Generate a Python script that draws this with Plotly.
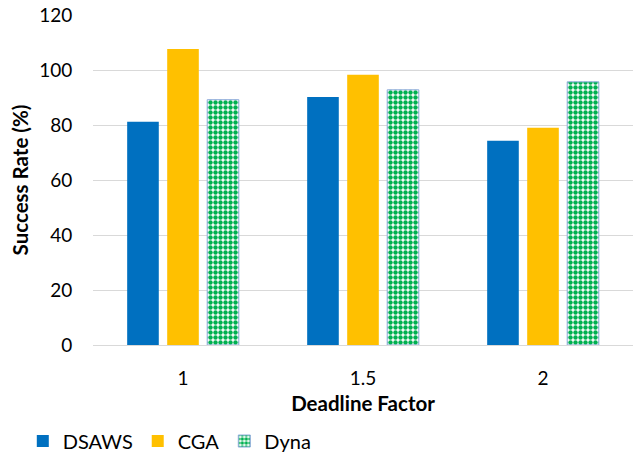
import plotly.graph_objects as go

# Deadline factors (categories) and success rates per algorithm
factors = ["1", "1.5", "2"]
dsaws = [81.2, 90.2, 74.3]
cga = [107.6, 98.3, 79.0]
dyna = [89.2, 92.8, 95.7]

y_ticks = [0, 20, 40, 60, 80, 100, 120]

font_family = "Lato, 'Open Sans', sans-serif"

fig = go.Figure()
fig.add_trace(go.Bar(name="DSAWS", x=factors, y=dsaws,
                     marker=dict(color="#0070C0", line=dict(width=0))))
fig.add_trace(go.Bar(name="CGA", x=factors, y=cga,
                     marker=dict(color="#FFC000", line=dict(width=0))))
fig.add_trace(go.Bar(name="Dyna", x=factors, y=dyna,
                     marker=dict(color="white",
                                 line=dict(color="#8FAADC", width=1),
                                 pattern=dict(shape=".", fgcolor="#00B050",
                                              bgcolor="white", size=5,
                                              solidity=0.62, fillmode="replace"))))

fig.update_layout(
    width=633, height=457,
    margin=dict(l=93, r=0, t=15, b=112, autoexpand=False),
    paper_bgcolor="white", plot_bgcolor="white",
    barmode="group", bargap=0.333, bargroupgap=0.21,
    font=dict(family=font_family, size=19, color="#000000"),
    showlegend=True,
    legend=dict(orientation="h", x=-0.13, xanchor="left", y=-0.291,
                yanchor="middle", font=dict(size=20, color="#000000"),
                itemwidth=30, traceorder="normal"),
)

fig.update_xaxes(
    type="category",
    showgrid=False, showline=True, linecolor="#D9D9D9", linewidth=1,
    ticks="outside", ticklen=16, tickcolor="rgba(0,0,0,0)",
    tickfont=dict(size=19),
    title=dict(text="<b>Deadline Factor</b>", font=dict(size=20.5), standoff=8),
)
fig.update_yaxes(
    range=[0, 120], tickvals=y_ticks,
    showgrid=True, gridcolor="#D9D9D9", gridwidth=1,
    zeroline=False, showline=False,
    ticks="outside", ticklen=16, tickcolor="rgba(0,0,0,0)",
    tickfont=dict(size=19),
    title=dict(text="<b>Success Rate (%)</b>", font=dict(size=20.5), standoff=4),
)

fig.write_html("out.html")
